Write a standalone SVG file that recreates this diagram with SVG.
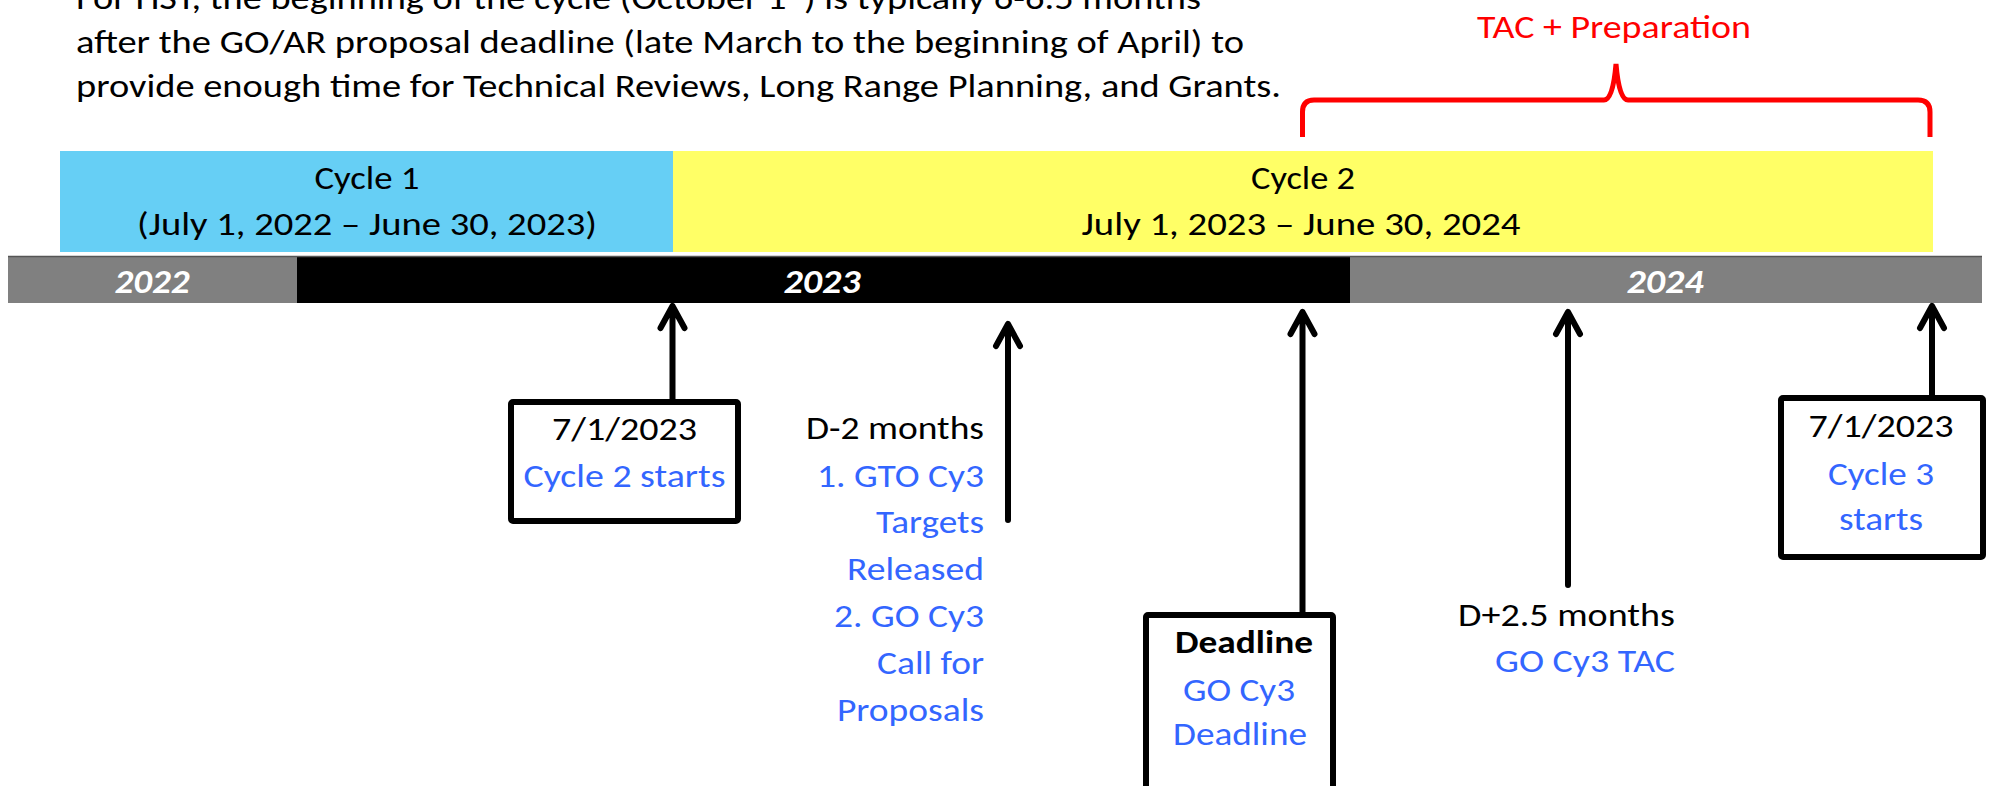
<svg xmlns="http://www.w3.org/2000/svg" width="1992" height="786" viewBox="0 0 1992 786">
<style>
text{font-family:Carlito,Lato,"Liberation Sans",sans-serif;font-size:33px;fill:#000}
.b{fill:#3366ff}
.c{text-anchor:middle}
.r{text-anchor:end}
.yr{font-weight:bold;font-style:italic;fill:#fff;text-anchor:middle;font-size:35px}
.box{fill:#fff;stroke:#000;stroke-width:6}
.arr{fill:none;stroke:#000;stroke-width:6;stroke-linecap:round;stroke-linejoin:round}
</style>
<rect width="1992" height="786" fill="#fff"/>
<g id="intro">
<text x="76" y="9" textLength="1125" lengthAdjust="spacingAndGlyphs">For HST, the beginning of the cycle (October 1<tspan font-size="21" dy="-12">st</tspan><tspan dy="12">) is typically 6-6.5 months</tspan></text>
<text x="76" y="53" textLength="1168" lengthAdjust="spacingAndGlyphs">after the GO/AR proposal deadline (late March to the beginning of April) to</text>
<text x="76" y="97" textLength="1205" lengthAdjust="spacingAndGlyphs">provide enough time for Technical Reviews, Long Range Planning, and Grants.</text>
</g>
<g id="tac-brace">
<path d="M1302.5,137 L1302.5,112 Q1302.5,100 1314,100 L1604,100 Q1613,100 1616,64 Q1619,100 1628,100 L1918,100 Q1930,100 1930,112 L1930,137" fill="none" stroke="#ff0000" stroke-width="5"/>
<text x="1614" y="38" class="c" style="fill:#ff0000" textLength="274" lengthAdjust="spacingAndGlyphs">TAC + Preparation</text>
</g>
<g id="cycle1">
<rect x="60" y="151" width="613" height="101" fill="#66cff5"/>
<text x="367" y="189" class="c" textLength="105" lengthAdjust="spacingAndGlyphs">Cycle 1</text>
<text x="367" y="235" class="c" textLength="460" lengthAdjust="spacingAndGlyphs">(July 1, 2022 – June 30, 2023)</text>
</g>
<g id="cycle2">
<rect x="673" y="151" width="1260" height="101" fill="#ffff66"/>
<text x="1303" y="189" class="c" textLength="104" lengthAdjust="spacingAndGlyphs">Cycle 2</text>
<text x="1301" y="235" class="c" textLength="439" lengthAdjust="spacingAndGlyphs">July 1, 2023 – June 30, 2024</text>
</g>
<g id="timeline">
<rect x="8" y="256" width="1974" height="47" fill="#808080"/>
<rect x="297" y="256" width="1053" height="47" fill="#000"/>
<line x1="8" y1="256.5" x2="1982" y2="256.5" stroke="#555" stroke-width="1.5"/>
<text x="152" y="293" class="yr" textLength="75" lengthAdjust="spacingAndGlyphs">2022</text>
<text x="822" y="293" class="yr" textLength="77" lengthAdjust="spacingAndGlyphs">2023</text>
<text x="1665" y="293" class="yr" textLength="77" lengthAdjust="spacingAndGlyphs">2024</text>
</g>
<g id="connectors">
<path class="arr" d="M672.5,401 V308 M660.5,328 L672.5,306 L684.5,328"/>
<path class="arr" d="M1008,520 V326 M996,346 L1008,324 L1020,346"/>
<path class="arr" d="M1302.5,615 V314 M1290.5,334 L1302.5,312 L1314.5,334"/>
<path class="arr" d="M1568,585 V314 M1556,334 L1568,312 L1580,334"/>
<path class="arr" d="M1932,398 V308 M1920,328 L1932,306 L1944,328"/>
</g>
<g id="cycle2-start">
<rect class="box" x="511" y="402" width="227" height="119" rx="2"/>
<text x="624.5" y="440" class="c" textLength="145" lengthAdjust="spacingAndGlyphs">7/1/2023</text>
<text x="624.5" y="487" class="c b" textLength="202" lengthAdjust="spacingAndGlyphs">Cycle 2 starts</text>
</g>
<g id="d-minus-2">
<text x="984" y="439" class="r" textLength="178" lengthAdjust="spacingAndGlyphs">D-2 months</text>
<text x="984" y="487" class="r b" textLength="167" lengthAdjust="spacingAndGlyphs">1. GTO Cy3</text>
<text x="984" y="533" class="r b" textLength="108" lengthAdjust="spacingAndGlyphs">Targets</text>
<text x="984" y="580" class="r b" textLength="137" lengthAdjust="spacingAndGlyphs">Released</text>
<text x="984" y="627" class="r b" textLength="150" lengthAdjust="spacingAndGlyphs">2. GO Cy3</text>
<text x="984" y="674" class="r b" textLength="107" lengthAdjust="spacingAndGlyphs">Call for</text>
<text x="984" y="721" class="r b" textLength="147" lengthAdjust="spacingAndGlyphs">Proposals</text>
</g>
<g id="deadline">
<rect class="box" x="1146" y="615" width="187" height="180" rx="2"/>
<text x="1244" y="653" class="c" font-weight="bold" textLength="138" lengthAdjust="spacingAndGlyphs">Deadline</text>
<text x="1239" y="701" class="c b" textLength="112" lengthAdjust="spacingAndGlyphs">GO Cy3</text>
<text x="1240" y="745" class="c b" textLength="134" lengthAdjust="spacingAndGlyphs">Deadline</text>
</g>
<g id="d-plus-2-5">
<text x="1675" y="626" class="r" textLength="217" lengthAdjust="spacingAndGlyphs">D+2.5 months</text>
<text x="1675" y="672" class="r b" textLength="180" lengthAdjust="spacingAndGlyphs">GO Cy3 TAC</text>
</g>
<g id="cycle3-start">
<rect class="box" x="1781" y="398" width="202" height="159" rx="2"/>
<text x="1881" y="437" class="c" textLength="145" lengthAdjust="spacingAndGlyphs">7/1/2023</text>
<text x="1881" y="485" class="c b" textLength="106" lengthAdjust="spacingAndGlyphs">Cycle 3</text>
<text x="1881" y="530" class="c b" textLength="84" lengthAdjust="spacingAndGlyphs">starts</text>
</g>
</svg>
